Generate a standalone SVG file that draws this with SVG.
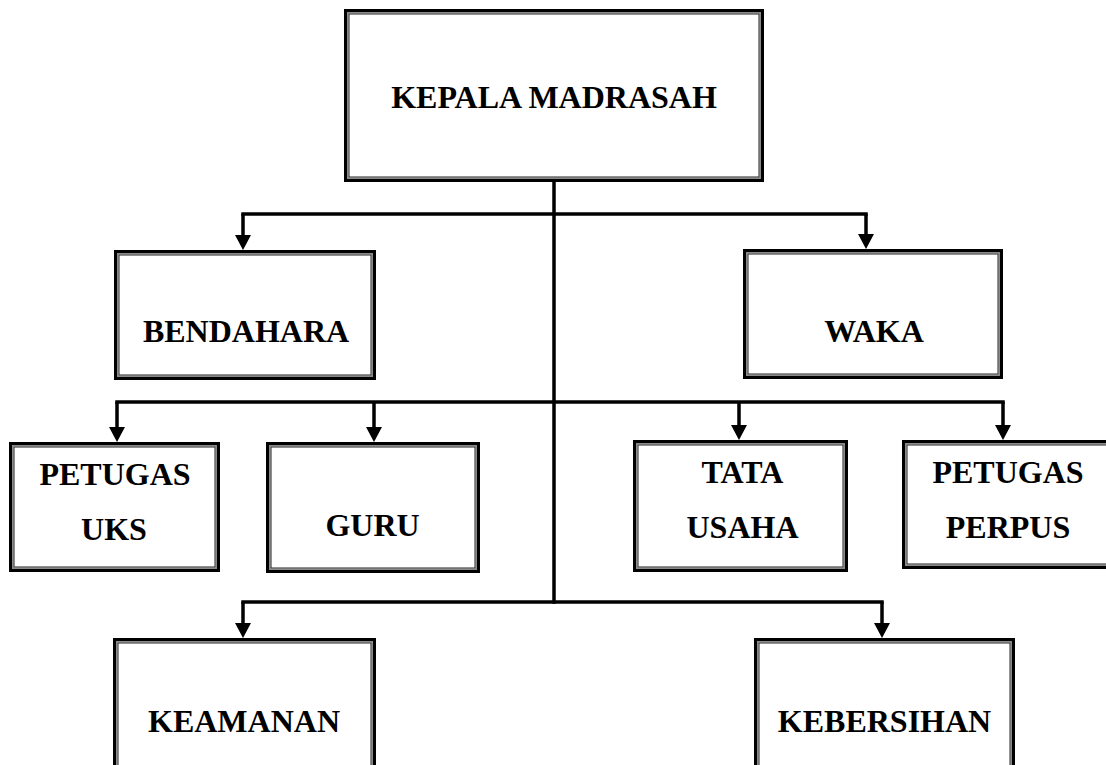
<svg xmlns="http://www.w3.org/2000/svg" width="1106" height="765" viewBox="0 0 1106 765">
<style>
.o{fill:#fff;stroke:#000;stroke-width:3}
.m{fill:none;stroke:#8a8a8a;stroke-width:1.5}
.i{fill:none;stroke:#222;stroke-width:1}
.t{font-family:"Liberation Serif","Times New Roman",serif;font-weight:bold;font-size:32px;fill:#000;text-anchor:middle}
.c{fill:none;stroke:#000;stroke-width:3.5}
.h{fill:none;stroke:#000;stroke-width:3.5;stroke-linecap:square}
</style>
<defs>
<marker id="ah" viewBox="0 -8 15 16" refX="0" refY="0" markerWidth="15" markerHeight="16" markerUnits="userSpaceOnUse" orient="auto">
<path d="M0,-8 L15,0 L0,8 Z" fill="#000"/>
</marker>
</defs>
<rect width="1106" height="765" fill="#fff"/>
<g id="connectors">
<path class="h" d="M554 182 V602"/>
<path class="h" d="M243 214 H866"/>
<path class="h" d="M117 402 H1003"/>
<path class="h" d="M243 602 H882"/>
<path class="c" d="M243 214 V235" marker-end="url(#ah)"/>
<path class="c" d="M866 214 V234" marker-end="url(#ah)"/>
<path class="c" d="M117 402 V427" marker-end="url(#ah)"/>
<path class="c" d="M374 402 V427" marker-end="url(#ah)"/>
<path class="c" d="M739 402 V425" marker-end="url(#ah)"/>
<path class="c" d="M1003 402 V425" marker-end="url(#ah)"/>
<path class="c" d="M243 602 V623" marker-end="url(#ah)"/>
<path class="c" d="M882 602 V623" marker-end="url(#ah)"/>
</g>
<g id="kepala">
<rect class="o" x="345.5" y="10.5" width="417" height="170"/>
<rect class="m" x="347.75" y="12.75" width="412.5" height="165.5"/>
<rect class="i" x="349" y="14" width="410" height="163"/>
<text class="t" x="554" y="108">KEPALA MADRASAH</text>
</g>
<g id="bendahara">
<rect class="o" x="115.5" y="251.5" width="259" height="127"/>
<rect class="m" x="117.75" y="253.75" width="254.5" height="122.5"/>
<rect class="i" x="119" y="255" width="252" height="120"/>
<text class="t" x="246" y="342">BENDAHARA</text>
</g>
<g id="waka">
<rect class="o" x="744.5" y="250.5" width="257" height="127"/>
<rect class="m" x="746.75" y="252.75" width="252.5" height="122.5"/>
<rect class="i" x="748" y="254" width="250" height="120"/>
<text class="t" x="874" y="342">WAKA</text>
</g>
<g id="petugas-uks">
<rect class="o" x="10.5" y="443.5" width="208" height="127"/>
<rect class="m" x="12.75" y="445.75" width="203.5" height="122.5"/>
<rect class="i" x="14" y="447" width="201" height="120"/>
<text class="t" x="115" y="485">PETUGAS</text>
<text class="t" x="114" y="540">UKS</text>
</g>
<g id="guru">
<rect class="o" x="267.5" y="443.5" width="211" height="128"/>
<rect class="m" x="269.75" y="445.75" width="206.5" height="123.5"/>
<rect class="i" x="271" y="447" width="204" height="121"/>
<text class="t" x="372.5" y="536">GURU</text>
</g>
<g id="tata-usaha">
<rect class="o" x="634.5" y="441.5" width="212" height="129"/>
<rect class="m" x="636.75" y="443.75" width="207.5" height="124.5"/>
<rect class="i" x="638" y="445" width="205" height="122"/>
<text class="t" x="742.5" y="483">TATA</text>
<text class="t" x="742.5" y="538">USAHA</text>
</g>
<g id="petugas-perpus">
<rect class="o" x="903.5" y="441.5" width="210" height="126"/>
<rect class="m" x="905.75" y="443.75" width="205.5" height="121.5"/>
<rect class="i" x="907" y="445" width="203" height="119"/>
<text class="t" x="1008" y="483">PETUGAS</text>
<text class="t" x="1008" y="538">PERPUS</text>
</g>
<g id="keamanan">
<rect class="o" x="114.5" y="639.5" width="260" height="139"/>
<rect class="m" x="116.75" y="641.75" width="255.5" height="134.5"/>
<rect class="i" x="118" y="643" width="253" height="132"/>
<text class="t" x="244" y="732">KEAMANAN</text>
</g>
<g id="kebersihan">
<rect class="o" x="755.5" y="639.5" width="258" height="139"/>
<rect class="m" x="757.75" y="641.75" width="253.5" height="134.5"/>
<rect class="i" x="759" y="643" width="251" height="132"/>
<text class="t" x="884.5" y="732">KEBERSIHAN</text>
</g>
</svg>
